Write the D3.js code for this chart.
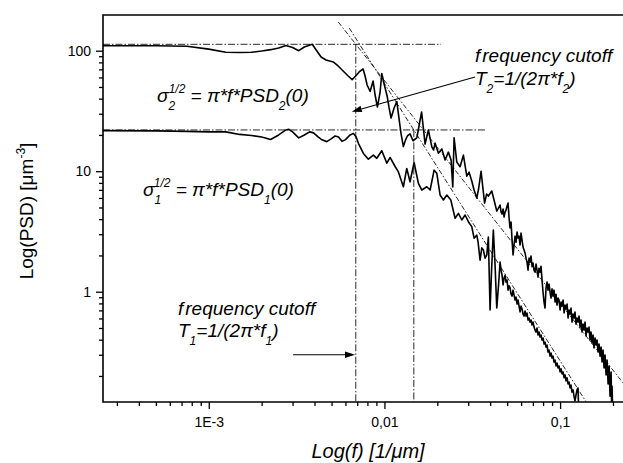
<!DOCTYPE html>
<html>
<head>
<meta charset="utf-8">
<script src="https://cdn.jsdelivr.net/npm/d3@7"></script>
<style>
  body { margin: 0; background: #fff; }
  svg { display: block; font-family: "Liberation Sans", Arial, Helvetica, sans-serif; }
</style>
</head>
<body>
<svg id="chart" width="623" height="463"></svg>
<script>
// ---- Spectrum 2 (upper curve): frequency [1/um] and PSD [um^-3]
const freq2 = [0.00025,0.0005,0.00075,0.001,0.00125,0.0015,0.00175,0.002,0.00225,0.0025,
  0.00275,0.003,0.00325,0.0035,0.00388,0.00409,0.00436,0.00465,0.00511,0.00545,
  0.00582,0.00622,0.00655,0.00686,0.00718,0.00756,0.00776,0.00797,0.00829,0.00862,
  0.00885,0.00912,0.00945,0.00966,0.00996,0.01036,0.01063,0.01091,0.01135,0.01176,
  0.01212,0.01244,0.01282,0.0132,0.01351,0.01399,0.01455,0.01529,0.01628,0.01704,
  0.01779,0.01861,0.01905,0.01943,0.02029,0.02122,0.02215,0.02312,0.02396,0.02449,
  0.02492,0.02582,0.02696,0.02815,0.02943,0.03033,0.03142,0.03238,0.03355,0.03435,
  0.0355,0.03645,0.03717,0.03815,0.03906,0.04084,0.04208,0.0436,
  0.04553,0.04613,0.04674,0.04736,0.04798,0.04861,0.04925,0.0499,0.05056,0.05123,
  0.0519,0.05259,0.05328,0.05398,0.05469,0.05541,0.05614,0.05688,0.05763,0.05839,
  0.05916,0.05994,0.06073,0.06153,0.06234,0.06316,0.06399,0.06484,0.06569,0.06656,
  0.06744,0.06833,0.06923,0.07014,0.07107,0.072,0.07295,0.07391,0.07489,0.07588,
  0.07688,0.07789,0.07892,0.07996,0.08102,0.08209,0.08317,0.08427,0.08538,0.08651,
  0.08765,0.08879,0.08996,0.09115,0.09235,0.09357,0.0948,0.09605,0.09732,0.09861,
  0.1,0.1013,0.1026,0.104,0.1054,0.1067,0.1081,0.1096,0.111,0.1125,
  0.1139,0.1154,0.1169,0.1185,0.12,0.1216,0.1232,0.1248,0.1265,0.1282,
  0.1299,0.1316,0.1333,0.1351,0.1369,0.1387,0.1405,0.1424,0.1442,0.1461,
  0.1481,0.15,0.152,0.154,0.156,0.1581,0.1602,0.1623,0.1644,0.1666,
  0.1689,0.1711,0.1733,0.1756,0.178,0.1803,0.1827,0.1851,0.1876,0.19,
  0.1925,0.1951,0.1964,0.1976,0.1989];
const psd2 = [110,110,109,103,97,96.5,97,99.4,102,105.3,
  110.4,106.3,100,107.3,113,101.3,88.6,83.7,80.6,74.7,
  67.9,61.7,57.6,61.7,66.6,70.5,61.7,51.9,45.9,56.0,
  42.9,34.1,45.4,64.7,52.9,42.1,33.5,27.6,33.5,37.9,
  27.1,20.4,16.0,18.2,19.6,20.4,17.9,18.9,31.0,16.8,
  22.0,15.9,15.0,17.1,14.1,15.3,12.4,14.4,12.4,7.39,
  18.9,11.9,10.9,13.6,9.11,9.82,8.29,6.98,5.99,7.12,
  10.0,6.98,5.44,6.46,6.22,6.85,5.77,4.67,
  5.24,4.58,4.41,4.86,4.17,4.58,4.76,5.14,5.45,4.09,
  3.38,3.79,2.68,2.02,2.44,2.89,2.58,3.13,2.79,2.89,
  2.44,3.07,2.68,2.35,2.22,2.10,1.90,1.761,1.51,1.90,
  1.761,1.98,1.628,1.728,1.51,1.453,1.695,1.51,1.319,1.568,
  1.453,1.628,1.25,0.991,0.821,0.732,1.076,1.203,1.03,1.158,
  0.991,0.886,1.056,0.920,1.03,0.821,0.954,0.775,0.886,0.853,
  0.705,0.821,0.760,0.853,0.666,0.775,0.718,0.790,0.605,0.705,
  0.653,0.732,0.560,0.653,0.605,0.679,0.539,0.605,0.560,0.628,
  0.509,0.582,0.463,0.539,0.481,0.560,0.429,0.500,0.463,0.509,
  0.397,0.463,0.375,0.437,0.341,0.413,0.361,0.397,0.316,0.368,
  0.292,0.347,0.261,0.328,0.233,0.298,0.204,0.271,0.172,0.242,
  0.136,0.216,0.122,0.165,0.115];

// ---- Spectrum 1 (lower curve)
const freq1 = [0.00025,0.0005,0.00075,0.001,0.00125,0.0015,0.00175,0.002,0.00225,0.0025,
  0.00275,0.00285,0.003,0.00325,0.0035,0.00375,0.00395,0.00419,0.00441,0.0047,
  0.00497,0.00524,0.00548,0.00573,0.00598,0.00638,0.00666,0.0069,0.00711,0.00759,
  0.0081,0.00865,0.00905,0.00966,0.01032,0.01077,0.0115,0.01201,0.01282,0.0134,
  0.01399,0.01475,0.01561,0.01632,0.01742,0.0182,0.01918,0.01987,0.02075,0.02166,
  0.02265,0.02387,0.02525,0.02636,0.02757,0.02878,0.03005,0.03142,0.03238,0.03355,
  0.03413,0.03504,0.03583,0.03658,0.03741,0.03825,0.03905,0.03994,0.04073,0.04169,
  0.04264,0.0436,0.04464,
  0.04553,0.04613,0.04674,0.04736,0.04798,0.04861,0.04925,0.0499,0.05056,0.05123,
  0.0519,0.05259,0.05328,0.05398,0.05469,0.05541,0.05614,0.05688,0.05763,0.05839,
  0.05916,0.05994,0.06073,0.06153,0.06234,0.06316,0.06399,0.06484,0.06569,0.06656,
  0.06744,0.06833,0.06923,0.07014,0.07107,0.072,0.07295,0.07391,0.07489,0.07588,
  0.07688,0.07789,0.07892,0.07996,0.08102,0.08209,0.08317,0.08427,0.08538,0.08651,
  0.08765,0.08879,0.08996,0.09115,0.09235,0.09357,0.0948,0.09605,0.09732,0.09861,
  0.1,0.1013,0.1026,0.104,0.1054,0.1067,0.1081,0.1096,0.111,0.1125,
  0.1139,0.1154,0.1169,0.1185,0.12,0.1216,0.1232,0.1248,0.1265,0.1273];
const psd1 = [21.7,21.6,21.4,21.2,21.2,20.2,19.8,19.25,18.35,20.0,
  22.0,22.3,21.2,18.9,20.0,21.2,20.8,19.25,18.2,17.6,
  18.55,19.6,19.25,17.7,18.2,20.0,20.6,19.25,17.05,14.05,
  12.57,13.6,12.8,14.8,11.67,13.0,10.94,9.87,7.43,10.54,
  8.18,11.81,7.93,6.98,7.43,6.98,10.2,9.60,6.34,5.77,
  6.34,5.77,4.07,4.47,3.94,4.33,3.81,3.47,2.78,2.95,
  2.58,1.83,2.31,2.22,1.90,2.02,2.84,0.705,1.51,3.25,
  1.66,0.732,1.14,
  1.761,1.51,1.37,1.14,1.294,1.37,1.203,1.25,1.03,1.118,
  1.076,0.954,0.920,1.03,0.938,0.853,0.903,0.790,0.853,0.760,
  0.679,0.760,0.718,0.653,0.628,0.692,0.628,0.666,0.582,0.605,
  0.560,0.582,0.529,0.560,0.509,0.481,0.463,0.500,0.437,0.463,
  0.421,0.437,0.397,0.413,0.368,0.382,0.347,0.361,0.316,0.328,
  0.292,0.310,0.282,0.292,0.261,0.271,0.242,0.256,0.233,0.242,
  0.216,0.229,0.208,0.216,0.193,0.204,0.182,0.193,0.172,0.178,
  0.159,0.168,0.147,0.153,0.136,0.124,0.139,0.153,0.159,0.115];

// ---- Plateau levels PSD(0), cutoff frequencies and power-law fits
const plateauPsd = [113, 22];          // spectrum 2, spectrum 1
const plateauEnd = [0.021, 0.0383];    // where each plateau guide stops
const cutoffFreq = [0.00687, 0.0147];  // f2, f1
const fitFreq2 = [0.00546, 0.25];
const fitPsd2  = [173, 0.148];
const fitFreq1 = [0.00631, 0.15];
const fitPsd1  = [154, 0.105];

// ---- Axis ticks
const xMajor = [0.001, 0.01, 0.1];
const xMajorLabels = ["1E-3", "0,01", "0,1"];
const xMinor = [3e-4,4e-4,5e-4,6e-4,7e-4,8e-4,9e-4,
  0.002,0.003,0.004,0.005,0.006,0.007,0.008,0.009,
  0.02,0.03,0.04,0.05,0.06,0.07,0.08,0.09,0.2];
const yMajor = [1, 10, 100];
const yMajorLabels = ["1", "10", "100"];
const yMinor = [0.2,0.3,0.4,0.5,0.6,0.7,0.8,0.9,2,3,4,5,6,7,8,9,20,30,40,50,60,70,80,90];

// ---- Layout
const svg = d3.select("#chart");
const L = 103, T = 15, R = 630, B = 402;
const x = d3.scaleLog().domain([2.5e-4, 0.25]).range([L, R]);
const y = d3.scaleLog().domain([0.1216, 197.8]).range([B, T]);

svg.append("defs").append("clipPath").attr("id", "plotClip")
  .append("rect").attr("x", L).attr("y", T).attr("width", R - L).attr("height", B - T);

const plot = svg.append("g").attr("clip-path", "url(#plotClip)");
const dashDot = "7,2,1.5,2";

// plateau guides
plateauPsd.forEach((p, i) => {
  plot.append("line")
    .attr("x1", x(2.5e-4)).attr("x2", x(plateauEnd[i]))
    .attr("y1", y(p)).attr("y2", y(p))
    .attr("stroke", "#111").attr("stroke-width", 0.9).attr("stroke-dasharray", dashDot);
});
// cutoff verticals
cutoffFreq.forEach((f, i) => {
  plot.append("line")
    .attr("x1", x(f)).attr("x2", x(f))
    .attr("y1", y(plateauPsd[i])).attr("y2", B)
    .attr("stroke", "#111").attr("stroke-width", 0.9).attr("stroke-dasharray", dashDot);
});
// power-law fits
const fitLine = d3.line().x(d => x(d[0])).y(d => y(d[1]));
[[fitFreq2, fitPsd2], [fitFreq1, fitPsd1]].forEach(([fs, ps]) => {
  plot.append("path")
    .attr("d", fitLine(fs.map((f, i) => [f, ps[i]])))
    .attr("fill", "none").attr("stroke", "#111").attr("stroke-width", 0.9)
    .attr("stroke-dasharray", "5,2,1.5,2");
});

// spectra
const specLine = d3.line().x(d => x(d[0])).y(d => y(d[1]));
[[freq1, psd1], [freq2, psd2]].forEach(([fs, ps]) => {
  plot.append("path")
    .attr("d", specLine(fs.map((f, i) => [f, ps[i]])))
    .attr("fill", "none").attr("stroke", "#000").attr("stroke-width", 1.6)
    .attr("stroke-linejoin", "round");
});

// ---- Axes
const axisFont = g => g.selectAll("text")
  .attr("font-family", "'Liberation Sans', Arial, sans-serif")
  .attr("font-size", 14).attr("fill", "#000");

const xAx = svg.append("g").attr("transform", `translate(0,${B})`);
xAx.append("g").call(d3.axisBottom(x).tickValues(xMinor).tickSize(4).tickFormat(""))
  .call(g => g.select(".domain").remove());
xAx.append("g").call(d3.axisBottom(x).tickValues(xMajor).tickSize(7).tickPadding(8)
    .tickFormat((d, i) => xMajorLabels[i]))
  .call(g => g.select(".domain").remove()).call(axisFont);

const yAx = svg.append("g").attr("transform", `translate(${L},0)`);
yAx.append("g").call(d3.axisLeft(y).tickValues(yMinor).tickSize(4).tickFormat(""))
  .call(g => g.select(".domain").remove());
yAx.append("g").call(d3.axisLeft(y).tickValues(yMajor).tickSize(7).tickPadding(5)
    .tickFormat((d, i) => yMajorLabels[i]))
  .call(g => g.select(".domain").remove()).call(axisFont);

svg.selectAll(".tick line").attr("stroke", "#000").attr("stroke-width", 1.3);

// frame
svg.append("path")
  .attr("d", `M${R},${T}H${L}V${B}H${R}`)
  .attr("fill", "none").attr("stroke", "#000").attr("stroke-width", 1.6);

// ---- Axis titles
svg.append("text")
  .attr("x", 368).attr("y", 458).attr("text-anchor", "middle")
  .attr("font-size", 20).attr("font-style", "italic")
  .text("Log(f) [1/\u03bcm]");

const yt = svg.append("text")
  .attr("transform", "translate(33,211) rotate(-90)")
  .attr("text-anchor", "middle").attr("font-size", 19);
yt.append("tspan").text("Log(PSD) [\u03bcm");
yt.append("tspan").attr("font-size", 12).attr("dy", -8).text("-3");
yt.append("tspan").attr("dy", 8).text("]");

// ---- Annotations
function rich(xp, yp, parts, size) {
  const t = svg.append("text").attr("x", xp).attr("y", yp)
    .attr("font-size", size).attr("font-style", "italic");
  let shift = 0;
  parts.forEach(p => {
    const target = p.k === "sub" ? 8 : p.k === "sup" ? -9 : 0;
    const s = t.append("tspan").attr("dy", target - shift).text(p.t);
    if (p.k) s.attr("font-size", 12);
    if (p.dx) s.attr("dx", p.dx);
    shift = target;
  });
  return t;
}

rich(475, 62, [{t: "f"}, {t: "requency cutoff", dx: 2}], 19);
rich(475, 85, [{t: "T"}, {t: "2", k: "sub"}, {t: "=1/(2\u03c0*f"}, {t: "2", k: "sub"}, {t: ")"}], 19);

rich(178, 315, [{t: "f"}, {t: "requency cutoff", dx: 2}], 19);
rich(178, 337, [{t: "T"}, {t: "1", k: "sub"}, {t: "=1/(2\u03c0*f"}, {t: "1", k: "sub"}, {t: ")"}], 19);

rich(157, 102, [{t: "\u03c3"}, {t: "2", k: "sub"}, {t: "1/2", k: "sup", dx: -6.5},
  {t: " = \u03c0*f*PSD"}, {t: "2", k: "sub"}, {t: "(0)"}], 19);
rich(143, 196, [{t: "\u03c3"}, {t: "1", k: "sub"}, {t: "1/2", k: "sup", dx: -6.5},
  {t: " = \u03c0*f*PSD"}, {t: "1", k: "sub"}, {t: "(0)"}], 19);

// arrows pointing at the cutoff lines
function arrow(f0, p0, f1, p1) {
  const ax = x(f0), ay = y(p0), bx = x(f1), by = y(p1);
  const ang = Math.atan2(by - ay, bx - ax), len = 10, hw = 3.2;
  const hx = bx - len * Math.cos(ang), hy = by - len * Math.sin(ang);
  svg.append("line").attr("x1", ax).attr("y1", ay).attr("x2", hx).attr("y2", hy)
    .attr("stroke", "#000").attr("stroke-width", 1.1);
  svg.append("path")
    .attr("d", `M${bx},${by}L${hx + hw * Math.sin(ang)},${hy - hw * Math.cos(ang)}` +
               `L${hx - hw * Math.sin(ang)},${hy + hw * Math.cos(ang)}Z`)
    .attr("fill", "#000");
}
arrow(0.0328, 60.5, 0.00652, 31.2);
arrow(0.00302, 0.30, 0.0068, 0.30);
</script>
</body>
</html>
